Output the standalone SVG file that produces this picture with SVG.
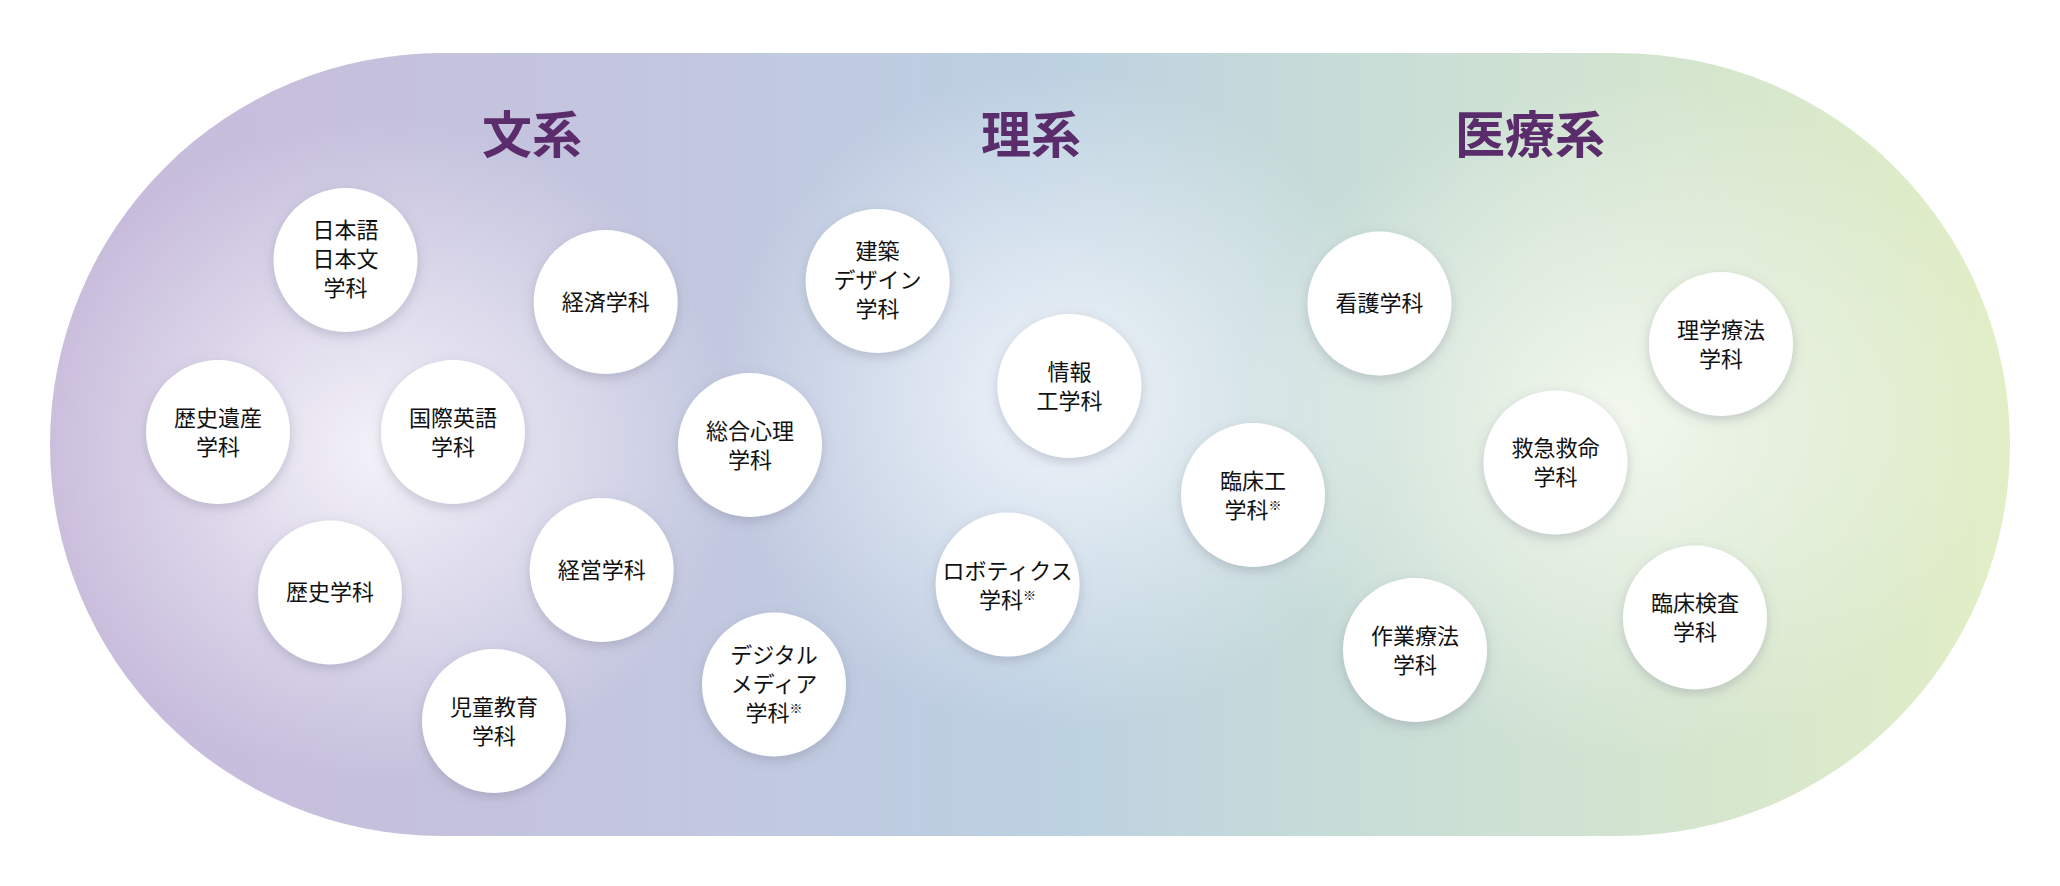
<svg xmlns="http://www.w3.org/2000/svg" width="2060" height="886" viewBox="0 0 2060 886">
<defs>
<linearGradient id="bg" x1="0" y1="0" x2="1" y2="0">
<stop offset="0" stop-color="#c8badb"/><stop offset="0.3" stop-color="#c3c6df"/><stop offset="0.5" stop-color="#bcd0e2"/><stop offset="0.65" stop-color="#c6dcd8"/><stop offset="1" stop-color="#e2eec6"/>
</linearGradient>
<radialGradient id="g1" cx="0.5" cy="0.5" r="0.5"><stop offset="0" stop-color="#f6f4fa" stop-opacity="0.95"/><stop offset="1" stop-color="#f6f4fa" stop-opacity="0"/></radialGradient>
<radialGradient id="g2" cx="0.5" cy="0.5" r="0.5"><stop offset="0" stop-color="#f2f6fb" stop-opacity="0.95"/><stop offset="1" stop-color="#f2f6fb" stop-opacity="0"/></radialGradient>
<radialGradient id="g3" cx="0.5" cy="0.5" r="0.5"><stop offset="0" stop-color="#f3f8ee" stop-opacity="0.95"/><stop offset="1" stop-color="#f3f8ee" stop-opacity="0"/></radialGradient>
<clipPath id="pill"><rect x="50" y="53" width="1960" height="783" rx="391.5"/></clipPath>
<filter id="sh" x="-30%" y="-30%" width="160%" height="160%"><feDropShadow dx="0" dy="4" stdDeviation="6" flood-color="#6a6a80" flood-opacity="0.3"/></filter>
</defs>
<style>
.n circle{fill:#fff;filter:url(#sh)}
.n text{font-family:"Noto Sans CJK JP","Noto Sans",sans-serif;font-size:22px;fill:#111;text-anchor:middle}
.t{font-family:"Noto Sans CJK JP",sans-serif;font-size:50px;font-weight:bold;fill:#5b2c6c;text-anchor:middle}
.s{font-size:13px}
</style>
<rect x="50" y="53" width="1960" height="783" rx="391.5" fill="url(#bg)"/>
<g clip-path="url(#pill)">
<ellipse cx="380" cy="450" rx="360" ry="330" fill="url(#g1)"/>
<ellipse cx="1060" cy="400" rx="340" ry="330" fill="url(#g2)"/>
<ellipse cx="1620" cy="420" rx="380" ry="340" fill="url(#g3)"/>
</g>
<text class="t" x="532" y="153">文系</text>
<text class="t" x="1031" y="153">理系</text>
<text class="t" x="1530" y="153">医療系</text>
<g id="connectors"/>
<g id="n1" class="n"><circle cx="345.5" cy="260" r="72"/><text x="345.5" y="238">日本語</text><text x="345.5" y="267">日本文</text><text x="345.5" y="296">学科</text></g>
<g id="n2" class="n"><circle cx="605.7" cy="302" r="72"/><text x="605.7" y="310">経済学科</text></g>
<g id="n3" class="n"><circle cx="218" cy="432" r="72"/><text x="218" y="426">歴史遺産</text><text x="218" y="455">学科</text></g>
<g id="n4" class="n"><circle cx="453" cy="432" r="72"/><text x="453" y="426">国際英語</text><text x="453" y="455">学科</text></g>
<g id="n5" class="n"><circle cx="750" cy="445" r="72"/><text x="750" y="439">総合心理</text><text x="750" y="468">学科</text></g>
<g id="n6" class="n"><circle cx="330" cy="592.5" r="72"/><text x="330" y="600">歴史学科</text></g>
<g id="n7" class="n"><circle cx="601.7" cy="570" r="72"/><text x="601.7" y="578">経営学科</text></g>
<g id="n8" class="n"><circle cx="494" cy="721" r="72"/><text x="494" y="715">児童教育</text><text x="494" y="744">学科</text></g>
<g id="n9" class="n"><circle cx="774" cy="684.5" r="72"/><text x="774" y="663">デジタル</text><text x="774" y="692">メディア</text><text x="774" y="721">学科<tspan class="s" dy="-8">※</tspan></text></g>
<g id="n10" class="n"><circle cx="877.6" cy="281" r="72"/><text x="877.6" y="259">建築</text><text x="877.6" y="288">デザイン</text><text x="877.6" y="317">学科</text></g>
<g id="n11" class="n"><circle cx="1069.4" cy="386" r="72"/><text x="1069.4" y="380">情報</text><text x="1069.4" y="409">工学科</text></g>
<g id="n12" class="n"><circle cx="1007.6" cy="584.6" r="72"/><text x="1007.6" y="579">ロボティクス</text><text x="1007.6" y="608">学科<tspan class="s" dy="-8">※</tspan></text></g>
<g id="n13" class="n"><circle cx="1379.5" cy="303.5" r="72"/><text x="1379.5" y="311">看護学科</text></g>
<g id="n14" class="n"><circle cx="1253" cy="495" r="72"/><text x="1253" y="489">臨床工</text><text x="1253" y="518">学科<tspan class="s" dy="-8">※</tspan></text></g>
<g id="n15" class="n"><circle cx="1721" cy="344" r="72"/><text x="1721" y="338">理学療法</text><text x="1721" y="367">学科</text></g>
<g id="n16" class="n"><circle cx="1555.5" cy="462.5" r="72"/><text x="1555.5" y="456">救急救命</text><text x="1555.5" y="485">学科</text></g>
<g id="n17" class="n"><circle cx="1415" cy="650" r="72"/><text x="1415" y="644">作業療法</text><text x="1415" y="673">学科</text></g>
<g id="n18" class="n"><circle cx="1695" cy="617.5" r="72"/><text x="1695" y="611">臨床検査</text><text x="1695" y="640">学科</text></g>
</svg>
